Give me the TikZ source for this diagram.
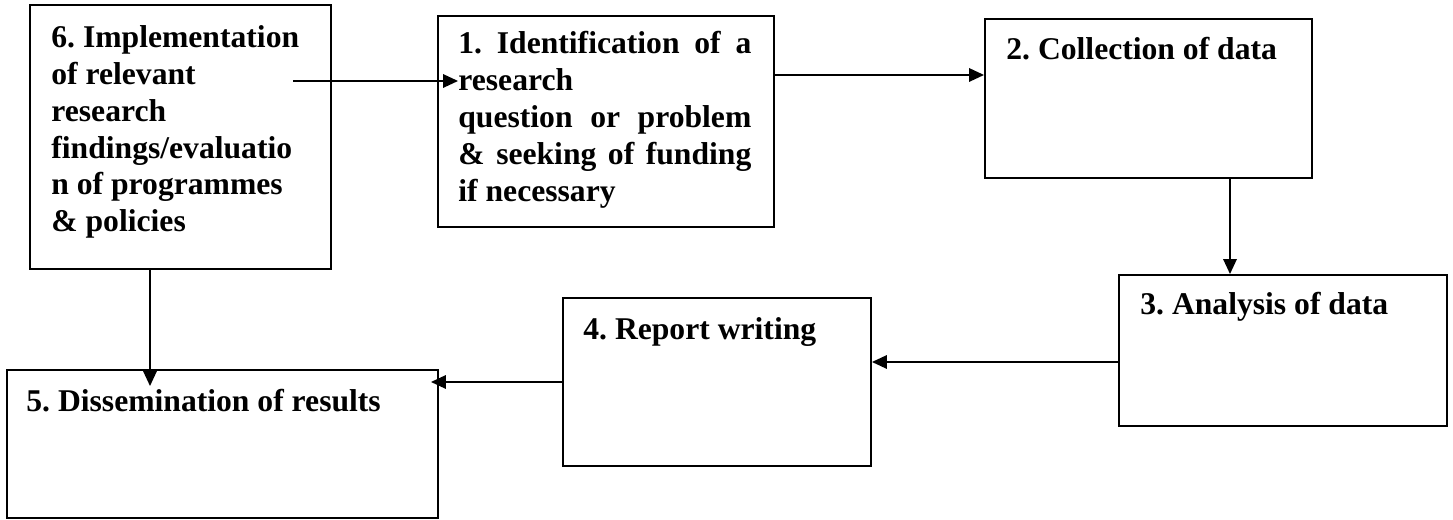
\documentclass[tikz,border=0pt]{standalone}
\usepackage{fontspec}
\setmainfont{Liberation Serif}
\usepackage{tikz}
\usetikzlibrary{arrows.meta}
\usetikzlibrary{positioning}
\frenchspacing

\begin{document}
\begin{tikzpicture}[>={Triangle[length=3mm,width=2.7mm]},
		stage/.style={draw=black, line width=1.1pt},
		lbl/.style={inner sep=0pt, font=\fontsize{18}{21}\selectfont\bfseries, align=left}]
			\useasboundingbox (0,0) rectangle (29.06,10.4);
			\foreach \n/\x/\y/\w/\h in {6/3.61/7.66/6.02/5.28, 1/12.12/7.97/6.72/4.22, 2/22.97/8.43/6.54/3.18,
				3/25.66/3.39/6.56/3.02, 4/14.34/2.76/6.16/3.36, 5/4.45/1.52/8.62/2.96} {
				\node[stage, minimum width=\w cm, minimum height=\h cm] (S\n) at (\x,\y) {};
			}
			\node[lbl, below right=4.2mm and 4.4mm of S6.north west] (L6) {6. Implementation\\of relevant\\research\\findings/evaluatio\\n of programmes\\\& policies};
			\node[lbl, text width=5.86cm, align=justify, below right=3.2mm and 4.2mm of S1.north west] (L1) {1. Identification of a\linebreak research\\question or problem\linebreak \& seeking of funding\linebreak if necessary};
			\node[lbl, below right=3.8mm and 4.4mm of S2.north west] (L2) {2. Collection of data};
			\node[lbl, below right=3.6mm and 4.4mm of S3.north west] (L3) {3. Analysis of data};
			\node[lbl, below right=4mm and 4.2mm of S4.north west] (L4) {4. Report writing};
			\node[lbl, below right=4mm and 4mm of S5.north west] (L5) {5. Dissemination of results};
			\coordinate (c6) at (5.86,8.78);
			\draw[->, line width=1pt] (c6) -- (L1.west |- c6);
			\draw[->, line width=1pt] (S1.east |- 0,8.9) -- (S2.west |- 0,8.9);
			\draw[->, line width=1pt] (S2.south -| 24.6,0) -- (S3.north -| 24.6,0);
			\draw[->, line width=1pt] (S3.west |- 0,3.16) -- (S4.east |- 0,3.16);
			\draw[->, line width=1pt, shorten >=-1.6mm] (S4.west) -- (S5.east |- S4.west);
			\draw[->, line width=1pt, shorten >=-3.4mm] (S6.south -| 3,0) -- (S5.north -| 3,0);
		\end{tikzpicture}
\end{document}
